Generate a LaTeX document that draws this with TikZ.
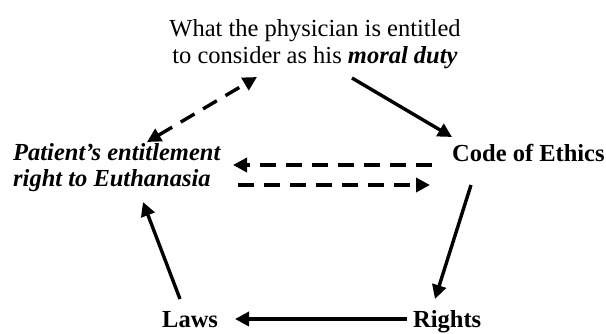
\documentclass[tikz,border=0pt]{standalone}
\usepackage{fontspec}
\setmainfont{Liberation Serif}
\usetikzlibrary{arrows.meta}
\begin{document}
\begin{tikzpicture}[x=1pt,y=-1pt,
  lbl/.style={inner sep=0pt,font=\fontsize{24.5}{26.5}\selectfont},
  conn/.style={line width=3.4pt,-{Triangle[length=14pt,width=14pt]}},
  dconn/.style={conn,dash pattern=on 16pt off 10pt}]
\useasboundingbox (0,0) rectangle (606,333);
\node[lbl,align=center,anchor=base] (top) at (315,63) {What the physician is entitled\\to consider as his \textbf{\textit{moral duty}}};
\node[lbl,align=left,anchor=base west,font=\fontsize{24.5}{26}\selectfont\bfseries\itshape] (patient) at (13,186) {Patient’s entitlement\\right to Euthanasia};
\node[lbl,anchor=base west,font=\fontsize{24.5}{26.5}\selectfont\bfseries] (code) at (452,161) {Code of Ethics};
\node[lbl,anchor=base west,font=\fontsize{24.5}{26.5}\selectfont\bfseries] (rights) at (413,327) {Rights};
\node[lbl,anchor=base west,font=\fontsize{24.5}{26.5}\selectfont\bfseries] (laws) at (162,327) {Laws};
% top <-> patient
\draw[dconn,{Triangle[length=14pt,width=14pt]}-{Triangle[length=14pt,width=14pt]}]
  ([xshift=134pt,yshift=44pt]patient.base west) -- ([xshift=-58pt,yshift=-14pt]top.base);
% top -> code
\draw[conn] ([xshift=37pt,yshift=-15pt]top.base) -- ([yshift=24pt]code.base west);
% code -> patient
\draw[dconn] ([xshift=-20pt,yshift=-4pt]code.base west) -- ([xshift=220pt,yshift=21pt]patient.base west);
% patient -> code
\draw[dconn] ([xshift=225pt,yshift=1pt]patient.base west) -- ([xshift=-22pt,yshift=-24pt]code.base west);
% code -> rights
\draw[conn] ([xshift=19pt,yshift=-24pt]code.base west) -- ([xshift=22pt,yshift=28pt]rights.base west);
% rights -> laws
\draw[conn] ([xshift=-6pt,yshift=8pt]rights.base west) -- ([xshift=73pt,yshift=8pt]laws.base west);
% laws -> patient
\draw[conn] ([xshift=18pt,yshift=28pt]laws.base west) -- ([xshift=130pt,yshift=-16pt]patient.base west);
\end{tikzpicture}
\end{document}
